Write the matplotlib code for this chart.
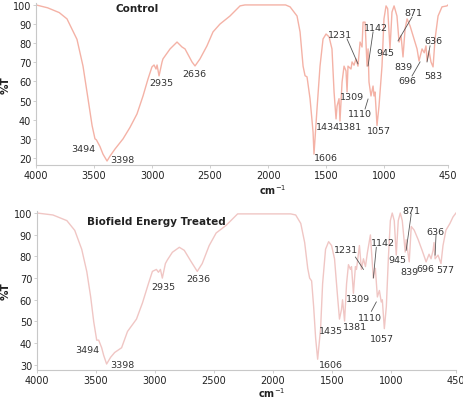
import numpy as np
import matplotlib.pyplot as plt

# control spectrum (wavenumber cm-1, %T)
ctrl_wn = [4000, 3900, 3800, 3733, 3647, 3595, 3552, 3517, 3492, 3480, 3449, 3423, 3388,
           3362, 3319, 3250, 3190, 3130, 3078, 3035, 3001, 2983, 2966, 2957, 2940, 2914,
           2906, 2845, 2785, 2742, 2716, 2656, 2630, 2587, 2527, 2475, 2415, 2329, 2242,
           2200, 1850, 1811, 1751, 1725, 1699, 1682, 1665, 1639, 1613, 1605, 1579, 1553,
           1527, 1501, 1475, 1450, 1432, 1415, 1406, 1389, 1381, 1363, 1346, 1329, 1320,
           1312, 1286, 1277, 1260, 1243, 1226, 1208, 1191, 1182, 1165, 1148, 1139, 1131,
           1114, 1096, 1088, 1079, 1062, 1045, 1019, 1002, 984, 970, 950, 933, 915, 890,
           872, 855, 838, 820, 803, 777, 752, 717, 700, 674, 655, 640, 631, 614, 597,
           579, 562, 536, 502, 459, 450]
ctrl_t = [100, 98.5, 96, 92.7, 82, 68, 51, 37, 30, 29.5, 26, 22, 18.4,
          21, 24.7, 30, 36, 43, 52.4, 61.3, 67.6, 68.6, 66.5, 68.6, 62.9, 70.2,
          71.8, 77, 80.6, 78, 77, 70.2, 68.1, 71.8, 78.6, 85.9, 90, 94.2, 99.5,
          100, 100, 99, 94.2, 85.9, 68, 63, 62.4, 51, 33.6, 22, 45.6, 68,
          82.2, 84.8, 83.3, 77, 54.5, 40.4, 47.2, 51, 39.3, 59.7, 68, 65.5, 54.5,
          68, 66.5, 70.2, 68.5, 71.8, 68, 80.6, 78, 91, 91, 68, 77, 59.7,
          52.4, 57.6, 52.4, 54.5, 37, 47, 68, 92.7, 99.5, 98, 77, 96.3, 99.5, 94.2,
          80.6, 84, 72.8, 87.5, 92.7, 89, 84, 77, 70.7, 77, 75, 78.6, 70.7, 76, 70.2,
          67.6, 82.2, 94.2, 99, 99.5, 100]

# biofield energy treated spectrum
trt_wn = [4000, 3865, 3747, 3680, 3621, 3578, 3545, 3519, 3494, 3477, 3452, 3435, 3410,
          3376, 3342, 3283, 3233, 3157, 3106, 3056, 3022, 2988, 2971, 2954, 2938, 2912,
          2895, 2853, 2794, 2752, 2693, 2642, 2600, 2541, 2482, 2398, 2300, 1850, 1808,
          1765, 1732, 1706, 1690, 1673, 1656, 1639, 1622, 1597, 1580, 1555, 1529, 1504,
          1479, 1453, 1437, 1420, 1411, 1394, 1377, 1361, 1344, 1335, 1319, 1302, 1293,
          1268, 1251, 1234, 1217, 1200, 1175, 1167, 1150, 1133, 1116, 1099, 1083, 1074,
          1057, 1040, 1023, 1006, 990, 973, 956, 939, 922, 905, 880, 872, 846, 829, 804,
          770, 737, 703, 678, 661, 644, 636, 627, 602, 577, 560, 535, 501, 475, 450]
trt_t = [100, 99.1, 96.5, 92, 83.3, 73, 61.3, 49.8, 41.4, 41.4, 37.9, 34.4, 30.4,
         33.5, 35.7, 37.9, 45.4, 51.1, 58.6, 67.4, 73.1, 74, 72.7, 74, 70, 76.7,
         78.4, 81.9, 84.2, 82.8, 77.5, 73.1, 76.7, 85, 90.8, 94.3, 99.6, 99.6, 99.1,
         95.2, 86.4, 74.5, 70, 68.7, 56.9, 42.3, 32.6, 46.7, 67.4, 83.3, 86.8, 85,
         78.9, 61.3, 51.1, 55.5, 60, 50.2, 67.4, 76.2, 74, 75.3, 63, 75.3, 74,
         85, 74, 78.9, 75.3, 81.9, 89.9, 83.3, 70, 74.5, 61.3, 64.3, 59, 60,
         46.7, 56.9, 78.9, 96.5, 100, 96.5, 80.6, 96.5, 100, 96.5, 82, 87.7, 77.5, 93.8, 92.1,
         87.7, 82.8, 77.5, 81, 78.9, 82.8, 86.4, 78.9, 80.6, 76.7, 85, 92.1, 95.2, 98.2, 100]

# peak labels: text, x, y (data)
ctrl_labels = [("3494", 3595, 24.7), ("3398", 3259, 19), ("2935", 2923, 59.2),
               ("2636", 2639, 63.9), ("1606", 1501, 20), ("1434", 1484, 36.2),
               ("1381", 1295, 36.7), ("1309", 1277, 51.9), ("1110", 1208, 43.5),
               ("1057", 1045, 34.1), ("1231", 1381, 84.8), ("1142", 1070, 88),
               ("945", 993, 74.9), ("871", 752, 96.3), ("839", 838, 67.6),
               ("696", 803, 60.3), ("636", 579, 81.2), ("583", 579, 62.9)]
ctrl_leaders = [((1320, 82.2), (1226, 69.2)), ((1096, 85.9), (1139, 68.1)),
                ((1165, 45.6), (1139, 50.8)), ((760, 93.7), (881, 81.2)),
                ((760, 62.9), (691, 70.2)), ((605, 78.6), (631, 70.2))]

trt_labels = [("3494", 3578, 37), ("3398", 3275, 30.4), ("2935", 2929, 66.1),
              ("2636", 2634, 69.6), ("1606", 1512, 30), ("1435", 1512, 45.8),
              ("1381", 1302, 47.6), ("1309", 1276, 60.4), ("1110", 1175, 52),
              ("1057", 1074, 42.3), ("1231", 1378, 83.3), ("1142", 1066, 86.4),
              ("945", 947, 78.4), ("871", 829, 101.3), ("839", 845, 73.1),
              ("696", 711, 74.5), ("577", 543, 74), ("636", 627, 91.6)]
trt_leaders = [((1302, 79.7), (1234, 74)), ((1125, 84.2), (1150, 70.1)),
               ((1167, 54.7), (1125, 59)), ((829, 99.6), (872, 82.8)),
               ((619, 89.9), (627, 80.6))]

xticks = [4000, 3500, 3000, 2500, 2000, 1500, 1000, 450]

fig = plt.figure(figsize=(4.64, 4.02), dpi=100)
ax1 = fig.add_axes([0.0776, 0.587, 0.888, 0.403])
ax2 = fig.add_axes([0.0797, 0.078, 0.903, 0.395])

panels = [
    (ax1, ctrl_wn, ctrl_t, ctrl_labels, ctrl_leaders, "Control", (16.3, 101),
     range(20, 101, 10), "#f4b2a6", (0.575, -0.148), (0.245, 0.969)),
    (ax2, trt_wn, trt_t, trt_labels, trt_leaders, "Biofield Energy Treated", (27.8, 101),
     range(30, 101, 10), "#f0c6c4", (0.56, -0.14), (0.285, 0.934)),
]

for ax, wn, t, labels, leaders, title, ylim, yt, col, xl, tl in panels:
    ax.plot(wn, t, color=col, lw=1.0)
    ax.set_xlim(4000, 450)
    ax.set_ylim(*ylim)
    ax.set_xticks(xticks)
    ax.set_yticks(list(yt))
    for s in ["top", "right"]:
        ax.spines[s].set_visible(False)
    for s in ["left", "bottom"]:
        ax.spines[s].set_color("#c8c8c8")
        ax.spines[s].set_linewidth(0.8)
    ax.tick_params(labelsize=7, colors="#c8c8c8", labelcolor="#222222",
                   length=2, width=0.6, pad=1.5)
    ax.text(xl[0], xl[1], "cm$^{-1}$", transform=ax.transAxes, ha="center", va="center",
            fontsize=7, fontweight="bold", color="#222222")
    ax.text(tl[0], tl[1], title, transform=ax.transAxes,
            ha="center", va="center", fontsize=7.5, fontweight="bold", color="#222222")
    ax.set_ylabel("%T", fontsize=7.5, fontweight="bold", color="#222222")
    ax.yaxis.set_label_coords(-0.062, 0.5)
    for txt, x, y in labels:
        ax.text(x, y, txt, ha="center", va="center", fontsize=6.8, color="#333333",
                clip_on=False)
    for (x0, y0), (x1, y1) in leaders:
        ax.plot([x0, x1], [y0, y1], color="#555555", lw=0.6)

fig.savefig("out.png", dpi=100)
